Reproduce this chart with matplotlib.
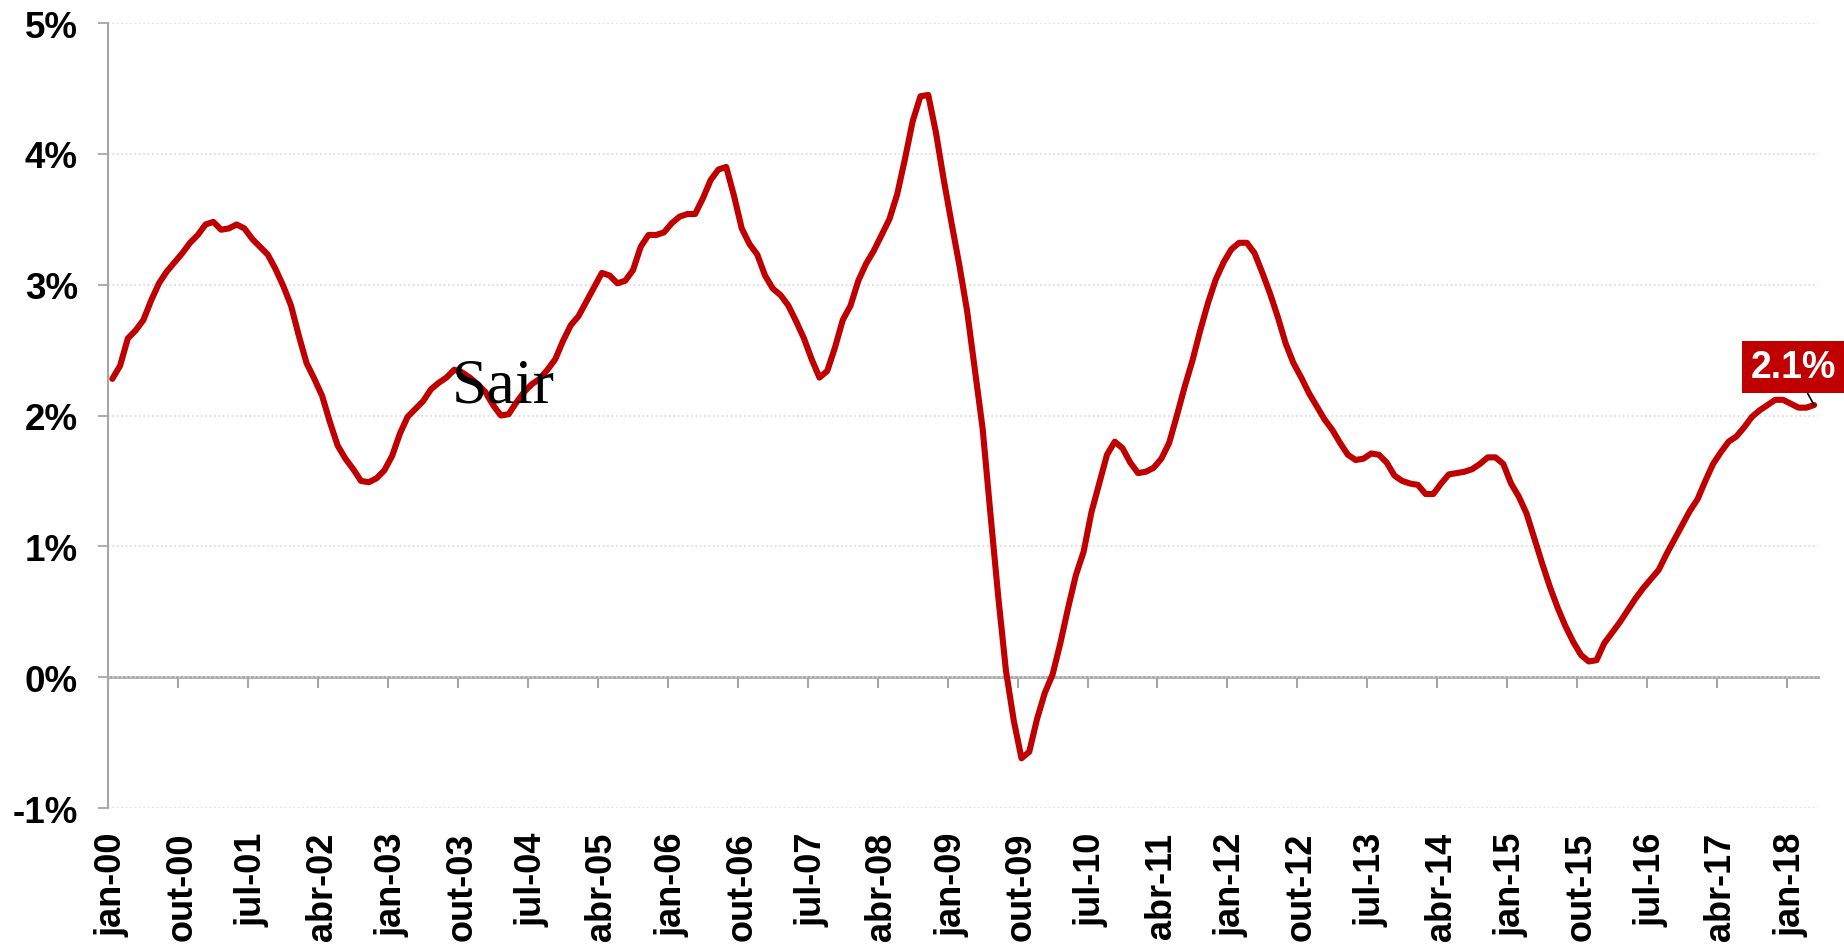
import matplotlib.pyplot as plt

# monthly series, jan-00 .. abr-18 (%)
valores = [
    2.28, 2.38, 2.59, 2.65, 2.73, 2.88, 3.01, 3.10, 3.17, 3.24,
    3.32, 3.38, 3.46, 3.48, 3.42, 3.43, 3.46, 3.43, 3.35, 3.29,
    3.23, 3.12, 2.99, 2.84, 2.61, 2.40, 2.28, 2.15, 1.95, 1.77,
    1.67, 1.59, 1.50, 1.49, 1.52, 1.58, 1.69, 1.86, 1.99, 2.05,
    2.11, 2.20, 2.25, 2.29, 2.35, 2.33, 2.29, 2.24, 2.18, 2.08,
    2.00, 2.01, 2.10, 2.18, 2.24, 2.28, 2.35, 2.43, 2.57, 2.69,
    2.76, 2.87, 2.98, 3.09, 3.07, 3.01, 3.03, 3.11, 3.29, 3.38,
    3.38, 3.40, 3.47, 3.52, 3.54, 3.54, 3.66, 3.80, 3.88, 3.90,
    3.68, 3.43, 3.31, 3.23, 3.07, 2.97, 2.92, 2.84, 2.72, 2.59,
    2.43, 2.29, 2.34, 2.52, 2.73, 2.84, 3.03, 3.16, 3.26, 3.38,
    3.50, 3.69, 3.96, 4.25, 4.44, 4.45, 4.16, 3.80, 3.47, 3.15,
    2.80, 2.35, 1.90, 1.25, 0.62, 0.05, -0.33, -0.62, -0.57, -0.32,
    -0.12, 0.02, 0.26, 0.53, 0.78, 0.96, 1.26, 1.48, 1.70, 1.80,
    1.75, 1.64, 1.56, 1.57, 1.60, 1.67, 1.79, 2.00, 2.22, 2.42,
    2.65, 2.86, 3.04, 3.17, 3.27, 3.32, 3.32, 3.24, 3.09, 2.93,
    2.75, 2.55, 2.40, 2.29, 2.17, 2.07, 1.97, 1.89, 1.79, 1.70,
    1.66, 1.67, 1.71, 1.70, 1.64, 1.54, 1.50, 1.48, 1.47, 1.40,
    1.40, 1.48, 1.55, 1.56, 1.57, 1.59, 1.63, 1.68, 1.68, 1.63,
    1.48, 1.38, 1.25, 1.06, 0.87, 0.69, 0.53, 0.39, 0.27, 0.17,
    0.12, 0.13, 0.26, 0.34, 0.42, 0.51, 0.60, 0.68, 0.75, 0.82,
    0.94, 1.05, 1.16, 1.27, 1.36, 1.50, 1.63, 1.72, 1.80, 1.84,
    1.91, 1.99, 2.04, 2.08, 2.12, 2.12, 2.09, 2.06, 2.06, 2.08,
]

rotulos_x = ["jan-00", "out-00", "jul-01", "abr-02", "jan-03", "out-03",
             "jul-04", "abr-05", "jan-06", "out-06", "jul-07", "abr-08",
             "jan-09", "out-09", "jul-10", "abr-11", "jan-12", "out-12",
             "jul-13", "abr-14", "jan-15", "out-15", "jul-16", "abr-17",
             "jan-18"]
passo = 9
yticks = [-1, 0, 1, 2, 3, 4, 5]
rotulo_final = "2.1%"

VERMELHO = "#C00000"
CINZA = "#a6a6a6"
SANS = ["Liberation Sans", "DejaVu Sans"]

n = len(valores)
x = list(range(n))

fig = plt.figure(figsize=(18.44, 9.45), dpi=100)
ax = fig.add_axes([0.0588, 0.1439, 0.9271, 0.8307])

ax.plot(x, valores, color=VERMELHO, linewidth=4.4, solid_joinstyle="round",
        solid_capstyle="round", zorder=3)

ax.set_xlim(-0.5, n - 0.5)
ax.set_ylim(-1, 5)

ax.set_yticks(yticks)
ax.set_yticklabels([f"{v}%" for v in yticks], fontsize=26.5, fontweight="bold", family=SANS)
ax.tick_params(axis="y", direction="out", length=7, width=1.3, color=CINZA, pad=15)
ax.yaxis.grid(True, color="#d9d9d9", linestyle=":", linewidth=1.2)
ax.set_axisbelow(True)

pos_rotulos = list(range(0, len(rotulos_x) * passo, passo))
ax.set_xticks(pos_rotulos)
ax.set_xticklabels(rotulos_x, rotation=90, fontsize=26, fontweight="bold", family=SANS)
ax.tick_params(axis="x", length=0, pad=17)

for s in ["top", "right", "bottom"]:
    ax.spines[s].set_visible(False)
ax.spines["left"].set_color(CINZA)
ax.spines["left"].set_linewidth(1.5)

# category axis crossing at 0%
zero = ax.secondary_xaxis((0 - yticks[0]) / (yticks[-1] - yticks[0]))
zero.set_xticks([p - 0.5 for p in pos_rotulos])
zero.tick_params(axis="x", direction="out", length=8, width=1.5, color=CINZA, labelbottom=False)
zero.spines["bottom"].set_color(CINZA)
zero.spines["bottom"].set_linewidth(2)

ax.annotate(rotulo_final, xy=(n - 1, valores[-1]), xytext=(1793, 577),
            textcoords="figure pixels", ha="center", va="center",
            color="white", fontsize=27, fontweight="bold", family=SANS,
            bbox=dict(boxstyle="square,pad=0.22", fc=VERMELHO, ec="none"),
            arrowprops=dict(arrowstyle="-", color="black", lw=1.2, shrinkA=0, shrinkB=0),
            annotation_clip=False, zorder=5)

fig.text(452 / 1844, 1 - 403 / 945, "Sair", fontsize=46,
         family=["Liberation Serif", "DejaVu Serif"], va="baseline", color="black")

fig.savefig("out.png", dpi=100)
